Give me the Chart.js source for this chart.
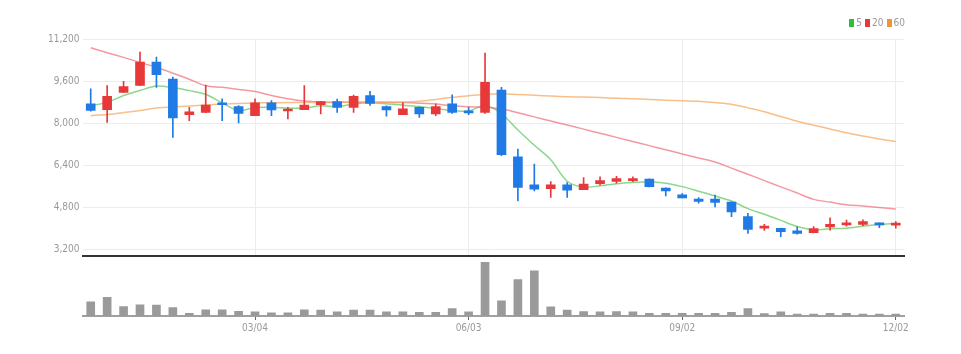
<!DOCTYPE html>
<html>
<head>
<meta charset="utf-8">
<script src="https://cdn.jsdelivr.net/npm/chart.js@4/dist/chart.umd.min.js"></script>
<style>
  body { margin: 0; background: #fff; }
  #wrap { position: relative; width: 961px; height: 354px; overflow: hidden; }
  #price { position: absolute; left: 0; top: 0; }
  #vol { position: absolute; left: 0; top: 256px; }
  #legend { position: absolute; top: 17px; right: 56px; font: 10px "Liberation Sans Narrow", "DejaVu Sans Condensed", sans-serif; color: #999; }
  #legend span { display: inline-block; width: 5px; height: 8px; margin: 0 2px 0 3px; vertical-align: -1px; }
</style>
</head>
<body>
<div id="wrap">
  <canvas id="price" width="961" height="265"></canvas>
  <canvas id="vol" width="961" height="98"></canvas>
  <div id="legend"><span style="background:#2cbf3a"></span>5<span style="background:#e8393a"></span>20<span style="background:#f0962e"></span>60</div>
</div>
<script>
var dates = ["12/25","01/01","01/08","01/15","01/22","01/29","02/05","02/12","02/19","02/26",
  "03/04","03/11","03/18","03/25","04/01","04/08","04/15","04/22","04/29","05/06",
  "05/13","05/20","05/27","06/03","06/10","06/17","06/24","07/01","07/08","07/15",
  "07/22","07/29","08/05","08/12","08/19","08/26","09/02","09/09","09/16","09/23",
  "09/30","10/07","10/14","10/21","10/28","11/04","11/11","11/18","11/25","12/02"]
var shownDates = ["03/04", "06/03", "09/02", "12/02"]

var opens  = [8730,8510,9170,9430,10320,9680,8320,8410,8770,8630, 8280,8770,8460,8510,8700,8820,8600,9050,8630,8320,
              8600,8350,8730,8450,8410,9260,6720,5650,5510,5650, 5470,5700,5780,5810,5870,5530,5270,5110,5110,5000,
              4440,4000,4000,3900,3830,4050,4130,4150,4200,4120]
var highs  = [9300,9430,9590,10700,10510,9750,8600,9450,8920,8670, 8920,8860,8600,9430,8830,8910,9070,9210,8660,8770,
              8620,8730,9080,8600,10660,9360,7010,6440,5780,5740, 5930,5960,5980,5960,5880,5540,5320,5170,5260,5010,
              4570,4150,4010,4050,4060,4400,4310,4320,4210,4250]
var lows   = [8450,8030,9170,9430,9360,7460,8090,8400,8090,8010, 8280,8280,8160,8510,8350,8410,8410,8670,8260,8320,
              8220,8280,8370,8320,8370,6760,5040,5420,5170,5170, 5470,5650,5720,5770,5570,5230,5150,4950,4810,4440,
              3800,3920,3680,3780,3820,3930,4080,4100,4020,4000]
var closes = [8480,9020,9390,10320,9840,8200,8430,8690,8700,8370, 8770,8500,8510,8690,8820,8600,9020,8750,8500,8540,
              8350,8630,8410,8390,9550,6800,5550,5490,5650,5450, 5680,5810,5890,5880,5580,5420,5150,5020,4980,4620,
              3960,4080,3870,3800,3990,4150,4210,4250,4130,4190]

var ma5  = [8665,8790,9050,9240,9410,9354,9236,9096,8772,8478, 8592,8606,8570,8568,8658,8624,8728,8776,8738,8682,
            8632,8554,8486,8464,8666,8356,7740,7156,6608,5788, 5564,5616,5696,5742,5768,5716,5584,5410,5230,5038,
            4746,4532,4302,4066,3940,3978,4004,4080,4146,4186]
var ma20 = [10866,10680,10500,10310,10126,9900,9670,9420,9360,9280, 9200,9050,8930,8840,8800,8790,8790,8790,8790,8780,
            8760,8730,8660,8620,8600,8545,8393,8237,8082,7927, 7771,7616,7457,7302,7143,6988,6829,6672,6520,6288,
            6055,5814,5576,5342,5100,4995,4893,4846,4787,4730]
var ma60 = [8284,8330,8400,8480,8577,8610,8650,8690,8720,8750, 8768,8775,8780,8785,8785,8790,8790,8790,8795,8800,
            8830,8900,8980,9040,9100,9120,9090,9060,9030,9000, 8990,8970,8950,8930,8900,8870,8850,8830,8780,8720,
            8580,8430,8250,8070,7920,7780,7630,7510,7400,7300]

// volume in thousands of shares
var volumes = [280,366,186,220,214,166,54,120,120,94, 80,60,60,120,114,80,114,114,80,80,
               74,74,146,80,1054,300,714,886,180,114, 86,80,86,80,54,54,54,54,54,74,
               146,46,80,40,40,54,54,40,40,40]

var yTicks = [3200, 4800, 6400, 8000, 9600, 11200]

var upColor = "#e8393a"
var downColor = "#1f7ae6"
var candleColors = closes.map((c, i) => c >= opens[i] ? upColor : downColor)
var tickFont = { family: "'Liberation Sans Narrow', 'DejaVu Sans Condensed', sans-serif", size: 10 }
var markIdx = dates.map((d, i) => shownDates.includes(d) ? i : -1).filter(i => i >= 0)

new Chart(document.getElementById("price"), {
  data: {
    labels: dates,
    datasets: [
      { type: "line", label: "60", data: ma60, borderColor: "rgba(245,170,100,0.75)", borderWidth: 1.5, pointRadius: 0, tension: 0.3, order: 3 },
      { type: "line", label: "20", data: ma20, borderColor: "rgba(238,110,120,0.7)", borderWidth: 1.5, pointRadius: 0, tension: 0.3, order: 3 },
      { type: "line", label: "5", data: ma5, borderColor: "rgba(110,205,110,0.8)", borderWidth: 1.5, pointRadius: 0, tension: 0.3, order: 3 },
      { type: "bar", label: "wick", data: lows.map((l, i) => [l, highs[i]]), backgroundColor: candleColors,
        barThickness: 1, grouped: false, order: 1 },
      { type: "bar", label: "body", data: opens.map((o, i) => [o, closes[i]]), backgroundColor: candleColors,
        barThickness: 9, minBarLength: 2, grouped: false, order: 0 }
    ]
  },
  options: {
    responsive: false,
    animation: false,
    layout: { padding: { top: 39, right: 57, bottom: 1, left: 0 } },
    plugins: { legend: { display: false }, tooltip: { enabled: false } },
    scales: {
      x: {
        offset: true,
        ticks: { display: false, autoSkip: false },
        grid: {
          offset: false, drawTicks: false,
          color: (c) => markIdx.includes(c.index) ? "#ececec" : "rgba(0,0,0,0)"
        },
        border: { color: "#333", width: 2 },
        afterFit: (s) => { s.height = 0 }
      },
      y: {
        min: 2945, max: 11200,
        afterBuildTicks: (s) => { s.ticks = yTicks.map(v => ({ value: v })) },
        ticks: { color: "#999", font: tickFont, padding: 3, callback: (v) => v.toLocaleString("en-US") },
        grid: { color: "#ececec", drawTicks: false },
        border: { display: false },
        afterFit: (s) => { s.width = 82.5 }
      }
    }
  }
})

new Chart(document.getElementById("vol"), {
  type: "bar",
  data: {
    labels: dates,
    datasets: [{ label: "volume", data: volumes, backgroundColor: "#9a9a9a", barThickness: 8 }]
  },
  options: {
    responsive: false,
    animation: false,
    layout: { padding: { top: 2, right: 57, bottom: 0, left: 82.5 } },
    plugins: { legend: { display: false }, tooltip: { enabled: false } },
    scales: {
      x: {
        offset: true,
        ticks: {
          autoSkip: false, maxRotation: 0, color: "#999", font: tickFont, padding: 2,
          callback: (v, i) => shownDates.includes(dates[i]) ? dates[i] : ""
        },
        grid: {
          offset: false, drawOnChartArea: false, tickLength: 4,
          color: (c) => markIdx.includes(c.index) ? "#666" : "rgba(0,0,0,0)"
        },
        border: { color: "#a0a0a0", width: 2 },
        afterFit: (s) => { s.height = 38 }
      },
      y: { display: false, min: 0, max: 1140 }
    }
  }
})
</script>
</body>
</html>
